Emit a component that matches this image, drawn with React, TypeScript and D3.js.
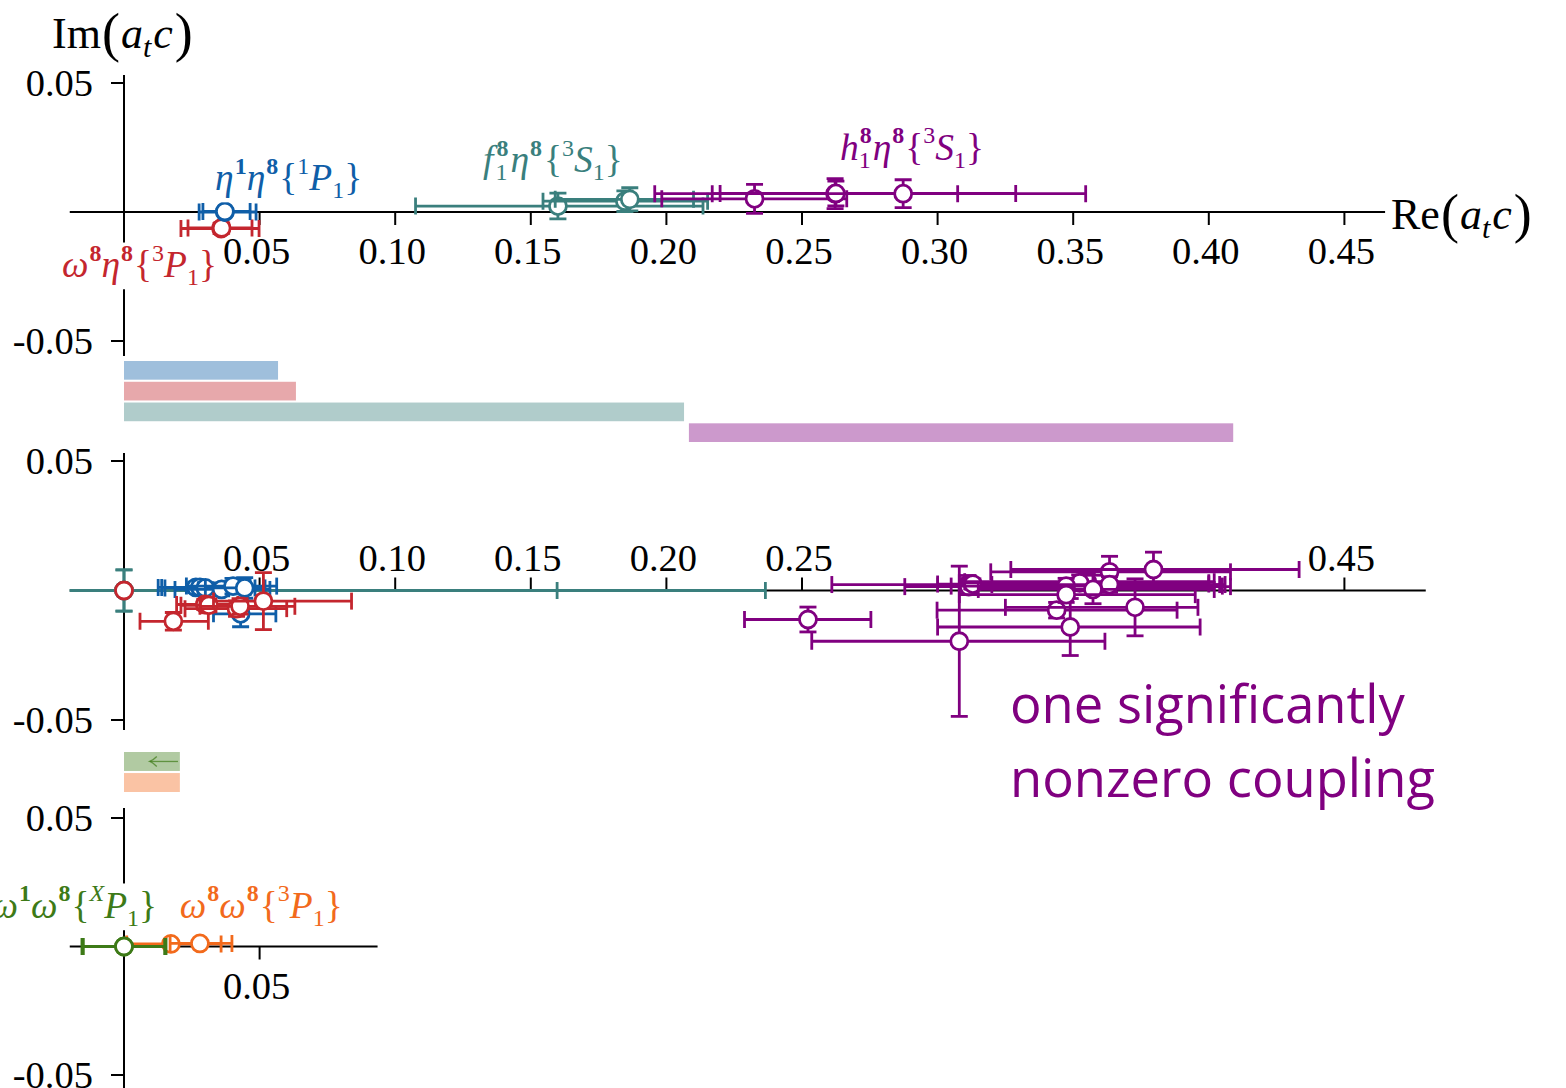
import React from 'react';
import * as d3 from 'd3';

// ---------- data ----------
const reTicks = [0.05, 0.1, 0.15, 0.2, 0.25, 0.3, 0.35, 0.4, 0.45];
const reTickLabelsTop = ['0.05', '0.10', '0.15', '0.20', '0.25', '0.30', '0.35', '0.40', '0.45'];
const reTickLabelsMid = ['0.05', '0.10', '0.15', '0.20', '0.25', '', '', '', '0.45'];
const reTicksBottom = [0.05];
const reTickLabelsBottom = ['0.05'];
const imTicks = [0.05, -0.05];
const imTickLabels = ['0.05', '-0.05'];

// each point: re, im, lo/hi (Re range), ie (Im half-error)
const topBlue = [
  { re: 0.0372, im: 0.0, lo: 0.0277, hi: 0.0487, ie: 0.001 },
  { re: 0.0372, im: 0.0002, lo: 0.0291, hi: 0.0465, ie: 0.001 },
];
const topRed = [
  { re: 0.0358, im: -0.0064, lo: 0.021, hi: 0.0498, ie: 0.002 },
  { re: 0.036, im: -0.0062, lo: 0.0236, hi: 0.0472, ie: 0.002 },
];
const topTeal = [
  { re: 0.16, im: 0.0023, lo: 0.1075, hi: 0.2135, ie: 0.005 },
  { re: 0.1847, im: 0.0042, lo: 0.1545, hi: 0.2152, ie: 0.004 },
  { re: 0.1865, im: 0.0049, lo: 0.159, hi: 0.21, ie: 0.0045 },
];
const topPurple = [
  { re: 0.2325, im: 0.0051, lo: 0.1983, hi: 0.2665, ie: 0.0056 },
  { re: 0.2622, im: 0.0071, lo: 0.2169, hi: 0.3074, ie: 0.0058 },
  { re: 0.2625, im: 0.0072, lo: 0.2198, hi: 0.3288, ie: 0.0048 },
  { re: 0.2873, im: 0.0071, lo: 0.1957, hi: 0.3546, ie: 0.0054 },
];

const midTeal = [
  { re: 0.0, im: 0.0, lo: -0.06, hi: 0.2365, ie: 0.008 },
  { re: 0.0, im: 0.0, lo: -0.06, hi: 0.1597, ie: 0.008 },
];
const midPurple = [
  { re: 0.2522, im: -0.0112, lo: 0.2288, hi: 0.2754, ie: 0.0048 },
  { re: 0.308, im: -0.0196, lo: 0.2536, hi: 0.3617, ie: 0.029 },
  { re: 0.3112, im: 0.0023, lo: 0.261, hi: 0.404, ie: 0.0035 },
  { re: 0.3115, im: 0.0015, lo: 0.2879, hi: 0.408, ie: 0.003 },
  { re: 0.313, im: 0.0025, lo: 0.3, hi: 0.4, ie: 0.002 },
  { re: 0.3439, im: -0.0076, lo: 0.2998, hi: 0.3883, ie: 0.003 },
  { re: 0.3489, im: -0.0141, lo: 0.3, hi: 0.3968, ie: 0.011 },
  { re: 0.3728, im: -0.0065, lo: 0.325, hi: 0.396, ie: 0.011 },
  { re: 0.3634, im: 0.0072, lo: 0.3196, hi: 0.408, ie: 0.006 },
  { re: 0.3796, im: 0.0081, lo: 0.327, hi: 0.4333, ie: 0.0067 },
  { re: 0.3552, im: 0.0034, lo: 0.31, hi: 0.402, ie: 0.003 },
  { re: 0.3524, im: 0.003, lo: 0.308, hi: 0.4, ie: 0.003 },
  { re: 0.3474, im: 0.0017, lo: 0.305, hi: 0.405, ie: 0.003 },
  { re: 0.3634, im: 0.0023, lo: 0.32, hi: 0.406, ie: 0.003 },
  { re: 0.3573, im: 0.0004, lo: 0.315, hi: 0.402, ie: 0.0055 },
  { re: 0.3474, im: -0.0016, lo: 0.308, hi: 0.395, ie: 0.003 },
];
const midBlue = [
  { re: 0.0265, im: 0.0012, lo: 0.0126, hi: 0.0446, ie: 0.002 },
  { re: 0.028, im: 0.0012, lo: 0.0139, hi: 0.0465, ie: 0.002 },
  { re: 0.03, im: 0.001, lo: 0.0151, hi: 0.0483, ie: 0.002 },
  { re: 0.036, im: 0.0004, lo: 0.0188, hi: 0.0538, ie: 0.0025 },
  { re: 0.0402, im: 0.0017, lo: 0.023, hi: 0.0563, ie: 0.003 },
  { re: 0.043, im: -0.009, lo: 0.033, hi: 0.056, ie: 0.005 },
  { re: 0.0445, im: 0.001, lo: 0.03, hi: 0.052, ie: 0.004 },
];
const midRed = [
  { re: 0.0, im: 0.0, lo: 0.0, hi: 0.0, ie: 0 },
  { re: 0.0182, im: -0.0119, lo: 0.0059, hi: 0.0311, ie: 0.0034 },
  { re: 0.0298, im: -0.0054, lo: 0.0194, hi: 0.042, ie: 0.002 },
  { re: 0.0313, im: -0.0057, lo: 0.021, hi: 0.044, ie: 0.0025 },
  { re: 0.0415, im: -0.007, lo: 0.0225, hi: 0.06, ie: 0.003 },
  { re: 0.0428, im: -0.0061, lo: 0.028, hi: 0.063, ie: 0.003 },
  { re: 0.0514, im: -0.0041, lo: 0.033, hi: 0.0839, ie: 0.011 },
];

const botOrange = [
  { re: 0.0173, im: 0.001, lo: 0.001, hi: 0.0358, ie: 0 },
  { re: 0.028, im: 0.0012, lo: 0.017, hi: 0.0398, ie: 0 },
];
const botGreen = [
  { re: 0.0, im: 0.0, lo: -0.0155, hi: 0.0155, ie: 0 },
  { re: 0.0, im: 0.0, lo: -0.015, hi: 0.015, ie: 0 },
];

// threshold-like ranges (Re)
const barsUpper = [
  [0, 0.0568],
  [0, 0.0634],
  [0, 0.2065],
  [0.2083, 0.409],
];
const barsLower = [
  [0, 0.0206],
  [0, 0.0206],
];

// label anchors in data units
const labelAnchors = {
  blue: [0.0336, 0.0085],
  red: [-0.0229, -0.0252],
  teal: [0.1324, 0.0155],
  purple: [0.264, 0.0202],
  green: [0.0122, 0.0111],
  orange: [0.0206, 0.0111],
  note: [0.3267, -0.0512],
};
const noteLines = ['one significantly', 'nonzero coupling'];

// ---------- styling ----------
const C = {
  blue: '#0f5ea8',
  red: '#c4262e',
  teal: '#3a7f7d',
  purple: '#800080',
  green: '#3d7a17',
  orange: '#f26a1c',
};
const SERIF = '"Liberation Serif", "DejaVu Serif", serif';
const LFS = 37.5;

const x = d3.scaleLinear().domain([0, 0.45]).range([124, 124 + 0.45 * 2712]);
const yTop = d3.scaleLinear().domain([-0.05, 0.05]).range([341, 83]);
const yMid = d3.scaleLinear().domain([-0.05, 0.05]).range([720, 461]);
const yBot = d3.scaleLinear().domain([-0.05, 0.05]).range([1075, 818]);

type Pt = { re: number; im: number; lo: number; hi: number; ie: number };

function Points({ data, color, y, clip }: { data: Pt[]; color: string; y: any; clip: string }) {
  const cap = 8.5;
  return (
    <g stroke={color} strokeWidth={2.8} fill="none" clipPath={`url(#${clip})`}>
      {data.map((d, i) => {
        const cx = x(d.re);
        const cy = y(d.im);
        const x0 = x(d.lo);
        const x1 = x(d.hi);
        const yt = y(d.im + d.ie);
        const yb = y(d.im - d.ie);
        return (
          <g key={i}>
            {d.hi > d.lo && (
              <>
                <line x1={x0} x2={x1} y1={cy} y2={cy} />
                <line x1={x0} x2={x0} y1={cy - cap} y2={cy + cap} />
                <line x1={x1} x2={x1} y1={cy - cap} y2={cy + cap} />
              </>
            )}
            {d.ie > 0 && (
              <>
                <line x1={cx} x2={cx} y1={yt} y2={yb} />
                <line x1={cx - cap} x2={cx + cap} y1={yt} y2={yt} />
                <line x1={cx - cap} x2={cx + cap} y1={yb} y2={yb} />
              </>
            )}
            <circle cx={cx} cy={cy} r={8.5} fill="#fff" />
          </g>
        );
      })}
    </g>
  );
}

type Part = { t: string; k?: 'i' | 'r' | 'b'; p?: 'sup' | 'sub'; dx?: number };

function MathLabel({ parts, px, py, fs, color, anchor }: { parts: Part[]; px: number; py: number; fs: number; color: string; anchor?: string }) {
  const ref = React.useRef<SVGTextElement>(null);
  const [bb, setBb] = React.useState<{ x: number; y: number; w: number; h: number } | null>(null);
  React.useLayoutEffect(() => {
    const measure = () => {
      if (ref.current) {
        const b = ref.current.getBBox();
        setBb({ x: b.x, y: b.y, w: b.width, h: b.height });
      }
    };
    measure();
    const f: any = (document as any).fonts;
    if (f && f.ready) f.ready.then(measure);
  }, []);
  let cur = 0;
  return (
    <g>
      {bb && <rect x={bb.x - 3} y={bb.y + 3} width={bb.w + 6} height={bb.h - 4} fill="#fff" />}
      <text ref={ref} x={px} y={py} fill={color} fontFamily={SERIF} fontSize={fs} textAnchor={anchor || 'start'}>
        {parts.map((p, i) => {
          const target = p.p === 'sup' ? -0.44 * fs : p.p === 'sub' ? 0.22 * fs : 0;
          const dy = target - cur;
          cur = target;
          return (
            <tspan
              key={i}
              dy={dy}
              dx={p.dx || 0}
              fontSize={p.p ? fs * 0.64 : fs}
              fontStyle={p.k === 'i' ? 'italic' : 'normal'}
              fontWeight={p.k === 'b' ? 'bold' : 'normal'}
            >
              {p.t}
            </tspan>
          );
        })}
      </text>
    </g>
  );
}

const lblBlue: Part[] = [
  { t: 'η', k: 'i' }, { t: '1', k: 'b', p: 'sup', dx: 1 }, { t: 'η', k: 'i' }, { t: '8', k: 'b', p: 'sup', dx: 1 },
  { t: '{', k: 'r', dx: 1 }, { t: '1', k: 'r', p: 'sup' }, { t: 'P', k: 'i' }, { t: '1', k: 'r', p: 'sub' }, { t: '}', k: 'r' },
];
const lblRed: Part[] = [
  { t: 'ω', k: 'i' }, { t: '8', k: 'b', p: 'sup', dx: 1 }, { t: 'η', k: 'i' }, { t: '8', k: 'b', p: 'sup', dx: 1 },
  { t: '{', k: 'r', dx: 1 }, { t: '3', k: 'r', p: 'sup' }, { t: 'P', k: 'i' }, { t: '1', k: 'r', p: 'sub' }, { t: '}', k: 'r' },
];
const lblTeal: Part[] = [
  { t: 'f', k: 'i' }, { t: '8', k: 'b', p: 'sup', dx: 3 }, { t: '1', k: 'r', p: 'sub', dx: -13 }, { t: 'η', k: 'i', dx: 3 },
  { t: '8', k: 'b', p: 'sup', dx: 1 }, { t: '{', k: 'r', dx: 2 }, { t: '3', k: 'r', p: 'sup' }, { t: 'S', k: 'i' },
  { t: '1', k: 'r', p: 'sub' }, { t: '}', k: 'r' },
];
const lblPurple: Part[] = [
  { t: 'h', k: 'i' }, { t: '8', k: 'b', p: 'sup', dx: 1 }, { t: '1', k: 'r', p: 'sub', dx: -13 }, { t: 'η', k: 'i', dx: 2 },
  { t: '8', k: 'b', p: 'sup', dx: 1 }, { t: '{', k: 'r', dx: 1 }, { t: '3', k: 'r', p: 'sup' }, { t: 'S', k: 'i' },
  { t: '1', k: 'r', p: 'sub' }, { t: '}', k: 'r' },
];
const lblGreen: Part[] = [
  { t: 'ω', k: 'i' }, { t: '1', k: 'b', p: 'sup', dx: 1 }, { t: 'ω', k: 'i' }, { t: '8', k: 'b', p: 'sup', dx: 1 },
  { t: '{', k: 'r', dx: 1 }, { t: 'X', k: 'i', p: 'sup' }, { t: 'P', k: 'i' }, { t: '1', k: 'r', p: 'sub' }, { t: '}', k: 'r' },
];
const lblOrange: Part[] = [
  { t: 'ω', k: 'i' }, { t: '8', k: 'b', p: 'sup', dx: 1 }, { t: 'ω', k: 'i' }, { t: '8', k: 'b', p: 'sup', dx: 1 },
  { t: '{', k: 'r', dx: 1 }, { t: '3', k: 'r', p: 'sup' }, { t: 'P', k: 'i' }, { t: '1', k: 'r', p: 'sub' }, { t: '}', k: 'r' },
];

function AxisLabel({ name, px, py }: { name: string; px: number; py: number }) {
  return (
    <text x={px} y={py} fontFamily={SERIF} fontSize={44} fill="#000">
      <tspan>{name}</tspan>
      <tspan fontSize={54} dy={3} dx={1}>(</tspan>
      <tspan fontStyle="italic" dy={-3} dx={1}>a</tspan>
      <tspan fontStyle="italic" fontSize={30} dy={9}>t</tspan>
      <tspan fontStyle="italic" dy={-9} dx={2}>c</tspan>
      <tspan fontSize={54} dy={3} dx={2}>)</tspan>
    </text>
  );
}

function Panel({ y, axisY0, axisY1, xMin, xMax, ticks, labels, tickDir, labelY, id }: any) {
  const y0 = y(0);
  return (
    <g>
      <defs>
        <clipPath id={id}>
          <rect x={x(xMin)} y={axisY0 - 20} width={x(xMax) - x(xMin)} height={axisY1 - axisY0 + 60} />
        </clipPath>
      </defs>
      <line x1={x(xMin)} x2={x(xMax)} y1={y0} y2={y0} stroke="#000" strokeWidth={2} />
      <line x1={x(0)} x2={x(0)} y1={axisY0} y2={axisY1} stroke="#000" strokeWidth={2} />
      {ticks.map((t: number, i: number) => (
        <g key={i}>
          <line x1={x(t)} x2={x(t)} y1={y0} y2={y0 + tickDir * 13} stroke="#000" strokeWidth={2} />
          {labels[i] && (
            <text x={x(t) - 3} y={labelY} textAnchor="middle" fontFamily={SERIF} fontSize={38.5} fill="#000">
              {labels[i]}
            </text>
          )}
        </g>
      ))}
      {imTicks.map((t, i) => (
        <g key={i}>
          <line x1={x(0) - 13} x2={x(0)} y1={y(t)} y2={y(t)} stroke="#000" strokeWidth={2} />
          <text x={93} y={y(t) + 13} textAnchor="end" fontFamily={SERIF} fontSize={38.5} fill="#000">
            {imTickLabels[i]}
          </text>
        </g>
      ))}
    </g>
  );
}

export default function App() {
  const bandU = d3.scaleBand<number>().domain([0, 1, 2, 3]).range([361, 442]).paddingInner(0.1);
  const bandL = d3.scaleBand<number>().domain([0, 1]).range([752, 792]).paddingInner(0.1);
  const upperColors = [C.blue, C.red, C.teal, C.purple];
  const lowerColors = [C.green, C.orange];
  const gy = (bandL(0) as number) + bandL.bandwidth() / 2;
  const ax0 = x(0.0095);

  return (
    <svg width={1566} height={1088} style={{ position: 'absolute', left: 0, top: 0, background: '#fff' }}>
      <rect width={1566} height={1088} fill="#fff" />

      {/* top panel */}
      <Panel y={yTop} axisY0={75} axisY1={356} xMin={-0.02} xMax={0.465} ticks={reTicks} labels={reTickLabelsTop} tickDir={1} labelY={264} id="clipTop" />
      <Points data={topTeal} color={C.teal} y={yTop} clip="clipTop" />
      <Points data={topPurple} color={C.purple} y={yTop} clip="clipTop" />
      <Points data={topRed} color={C.red} y={yTop} clip="clipTop" />
      <Points data={topBlue} color={C.blue} y={yTop} clip="clipTop" />
      <AxisLabel name="Im" px={52} py={48} />
      <AxisLabel name="Re" px={1391} py={229} />
      <MathLabel parts={lblBlue} px={x(labelAnchors.blue[0])} py={yTop(labelAnchors.blue[1])} fs={LFS} color={C.blue} />
      <MathLabel parts={lblRed} px={x(labelAnchors.red[0])} py={yTop(labelAnchors.red[1])} fs={LFS} color={C.red} />
      <MathLabel parts={lblTeal} px={x(labelAnchors.teal[0])} py={yTop(labelAnchors.teal[1])} fs={LFS} color={C.teal} />
      <MathLabel parts={lblPurple} px={x(labelAnchors.purple[0])} py={yTop(labelAnchors.purple[1])} fs={LFS} color={C.purple} />

      {/* upper bars */}
      {barsUpper.map((b, i) => (
        <rect key={i} x={x(b[0])} y={bandU(i)} width={x(b[1]) - x(b[0])} height={bandU.bandwidth()} fill={upperColors[i]} fillOpacity={0.4} />
      ))}

      {/* middle panel */}
      <Panel y={yMid} axisY0={453} axisY1={730} xMin={-0.02} xMax={0.48} ticks={reTicks} labels={reTickLabelsMid} tickDir={-1} labelY={571} id="clipMid" />
      <Points data={midTeal} color={C.teal} y={yMid} clip="clipMid" />
      <Points data={midPurple} color={C.purple} y={yMid} clip="clipMid" />
      <Points data={midBlue} color={C.blue} y={yMid} clip="clipMid" />
      <Points data={midRed} color={C.red} y={yMid} clip="clipMid" />
      <text x={x(labelAnchors.note[0])} y={yMid(labelAnchors.note[1])} fontFamily="'Open Sans', Lato, sans-serif" fontSize={52.5} fill={C.purple}>
        <tspan x={x(labelAnchors.note[0])}>{noteLines[0]}</tspan>
        <tspan x={x(labelAnchors.note[0])} dy={74}>{noteLines[1]}</tspan>
      </text>

      {/* lower bars */}
      {barsLower.map((b, i) => (
        <rect key={i} x={x(b[0])} y={bandL(i)} width={x(b[1]) - x(b[0])} height={bandL.bandwidth()} fill={lowerColors[i]} fillOpacity={0.4} />
      ))}
      <g stroke={C.green} strokeOpacity={0.7} strokeWidth={1.3} fill="none">
        <line x1={ax0} x2={x(0.0199)} y1={gy} y2={gy} />
        <path d={`M${ax0 + 7},${gy - 5} Q${ax0 + 3},${gy - 1} ${ax0},${gy} Q${ax0 + 3},${gy + 1} ${ax0 + 7},${gy + 5}`} />
      </g>

      {/* bottom panel */}
      <Panel y={yBot} axisY0={808} axisY1={1088} xMin={-0.02} xMax={0.0935} ticks={reTicksBottom} labels={reTickLabelsBottom} tickDir={1} labelY={999} id="clipBot" />
      <Points data={botOrange} color={C.orange} y={yBot} clip="clipBot" />
      <Points data={botGreen} color={C.green} y={yBot} clip="clipBot" />
      <MathLabel parts={lblGreen} px={x(labelAnchors.green[0])} py={yBot(labelAnchors.green[1])} fs={LFS} color={C.green} anchor="end" />
      <MathLabel parts={lblOrange} px={x(labelAnchors.orange[0])} py={yBot(labelAnchors.orange[1])} fs={LFS} color={C.orange} />
    </svg>
  );
}
